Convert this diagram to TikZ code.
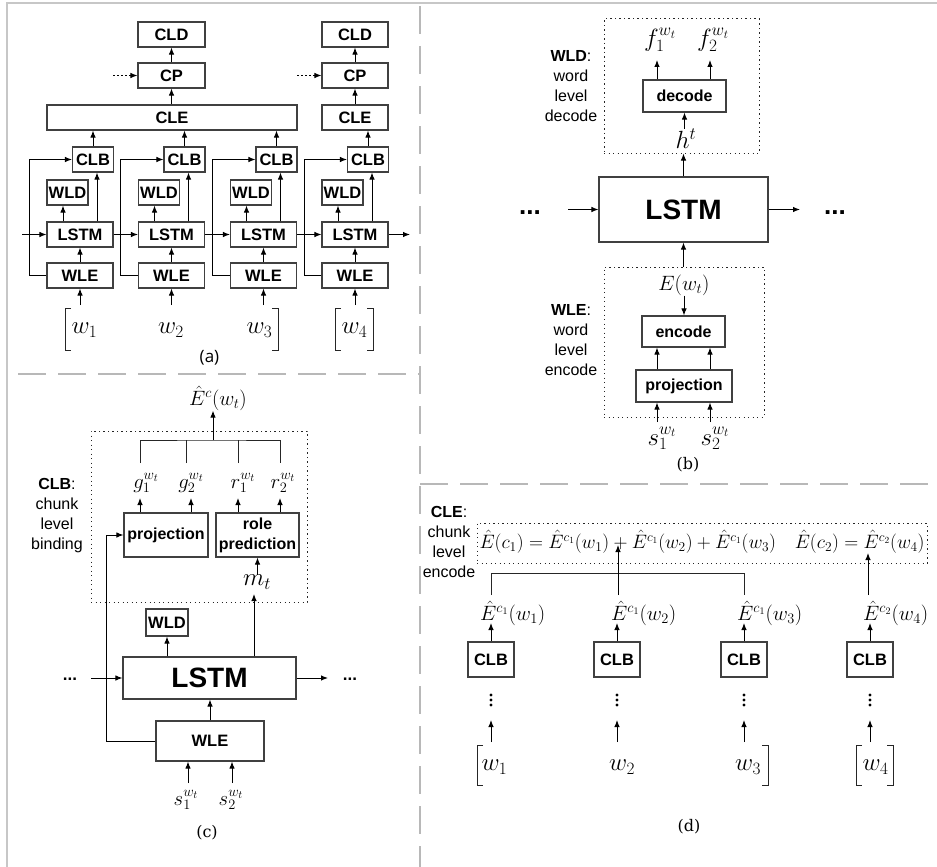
\documentclass[tikz,border=0pt]{standalone}
\usepackage{fontspec}
\usepackage{graphicx}
\usetikzlibrary{arrows.meta}
\newfontfamily\arialf{Liberation Sans}
\newfontfamily\osansf{Open Sans}
\newfontfamily\dserf{DejaVu Serif}
\tikzset{
  box/.style={draw=black!75, line width=1.1pt, fill=white, inner sep=0pt,
    font=\arialf\bfseries\fontsize{16.5}{18}\selectfont},
  bigbox/.style={box, font=\arialf\bfseries\fontsize{28}{30}\selectfont},
  arr/.style={-{Latex[length=7pt,width=5.5pt]}, line width=1pt},
  ln/.style={line width=1pt, draw=black!85},
  dotbox/.style={draw=black!85, line width=1pt, dash pattern=on 1.2pt off 3.3pt, inner sep=0pt},
  divider/.style={draw=black!28, line width=2pt, dash pattern=on 28pt off 12pt},
  mth/.style={inner sep=0pt, font=\fontsize{22}{26}\selectfont},
  mthw/.style={inner sep=0pt, font=\fontsize{23}{26}\selectfont},
  mthd/.style={inner sep=0pt, font=\fontsize{20}{24}\selectfont},
  lbl/.style={inner sep=0pt, align=center, font=\arialf\fontsize{16}{20}\selectfont},
  dots/.style={inner sep=0pt, font=\arialf\bfseries\fontsize{17}{20}\selectfont},
  bigdots/.style={inner sep=0pt, font=\arialf\bfseries\fontsize{26}{30}\selectfont},
  caps/.style={inner sep=0pt, font=\osansf\fontsize{17}{20}\selectfont},
  capsr/.style={inner sep=0pt, font=\dserf\fontsize{16}{20}\selectfont},
  brk/.style={line width=0.9pt, draw=black!85},
}
\begin{document}
\begin{tikzpicture}[x=1pt,y=-1pt]
\useasboundingbox (0,0) rectangle (937,867);
% frame and dividers
\draw[black!22, line width=1.5pt] (7,867) -- (7,3) -- (937,3);
\draw[divider] (420,6) -- (420,867);
\draw[divider] (18,374) -- (420,374);
\draw[divider] (420,484) -- (937,484);

%================ panel (a)
\node[box, minimum width=67, minimum height=25] (cld1) at (171.5,34.5) {CLD};
\node[box, minimum width=66, minimum height=25] (cld2) at (355,34.5) {CLD};
\node[box, minimum width=67, minimum height=25] (cp1) at (171.5,75.5) {CP};
\node[box, minimum width=66, minimum height=25] (cp2) at (355,75.5) {CP};
\node[box, minimum width=250, minimum height=25] (cle1) at (172,117.5) {CLE};
\node[box, minimum width=66, minimum height=25] (cle2) at (355,117.5) {CLE};
\foreach \i/\cx in {1/80,2/171.5,3/263.5,4/355}{
  \node[box, minimum width=66, minimum height=25] (lstm\i) at (\cx,234.5) {LSTM};
  \node[box, minimum width=66, minimum height=25] (wle\i) at (\cx,275.5) {WLE};
  \node[box, minimum width=41, minimum height=25] (wld\i) at (\cx-12.5,192.5) {WLD};
  \node[box, minimum width=41, minimum height=25] (clb\i) at (\cx+13,159.5) {CLB};
  \coordinate (in\i) at (\cx,305);
  \draw[arr] (in\i) -- (wle\i.south);
  \draw[arr] (wle\i.north) -- (lstm\i.south);
  \draw[arr] ([xshift=-17pt]lstm\i.north) -- ([xshift=-17pt]lstm\i.north |- wld\i.south);
  \draw[arr] ([xshift=17pt]lstm\i.north) -- ([xshift=17pt]lstm\i.north |- clb\i.south);
  \draw[arr] (wle\i.west) -- ++(-17,0) |- (clb\i.west);
}
\coordinate (lin) at (22,234.5);
\coordinate (lout) at (410,234.5);
\draw[arr] (lin) -- (lstm1.west);
\draw[arr] (lstm1.east) -- (lstm2.west);
\draw[arr] (lstm2.east) -- (lstm3.west);
\draw[arr] (lstm3.east) -- (lstm4.west);
\draw[arr] (lstm4.east) -- (lout);
\foreach \i in {1,2,3}{\draw[arr] (clb\i.north) -- (clb\i.north |- cle1.south);}
\draw[arr] (clb4.north) -- (clb4.north |- cle2.south);
\draw[arr] (cp1 |- cle1.north) -- (cp1.south);
\draw[arr] (cle2.north) -- (cp2.south);
\draw[arr] (cp1.north) -- (cld1.south);
\draw[arr] (cp2.north) -- (cld2.south);
\coordinate (dp1) at (113,75.5);
\coordinate (dp2) at (297,75.5);
\draw[arr, dash pattern=on 2pt off 2pt] (dp1) -- (cp1.west);
\draw[arr, dash pattern=on 2pt off 2pt] (dp2) -- (cp2.west);
% words
\node[mthw] (wa1) at (84.5,330) {$w_1$};
\node[mthw] (wa2) at (171,330) {$w_2$};
\node[mthw] (wa3) at (259.5,330) {$w_3$};
\node[mthw] (wa4) at (354.5,330) {$w_4$};
\draw[brk] (71,308) -- (65,308) -- (65,350) -- (71,350);
\draw[brk] (272,308) -- (278,308) -- (278,350) -- (272,350);
\draw[brk] (341,308) -- (335,308) -- (335,350) -- (341,350);
\draw[brk] (367,308) -- (373,308) -- (373,350) -- (367,350);
\node[caps] (capa) at (209.5,358) {(a)};

%================ panel (b)
\node[dotbox, minimum width=155, minimum height=134] (wldbox) at (681.5,86) {};
\node[box, font=\arialf\bfseries\fontsize{16}{18}\selectfont, minimum width=83, minimum height=32] (dec) at (684.5,96) {decode};
\node[mth, font=\fontsize{24}{26}\selectfont] (f1) at (660,40) {$f_1^{w_t}$};
\node[mth, font=\fontsize{24}{26}\selectfont] (f2) at (713,40) {$f_2^{w_t}$};
\draw[arr] ([xshift=-27.5pt]dec.north) -- ([xshift=-27.5pt]dec.north |- 0,60);
\draw[arr] ([xshift=25.5pt]dec.north) -- ([xshift=25.5pt]dec.north |- 0,60);
\node[mth, font=\fontsize{26}{28}\selectfont] (ht) at (686,139) {$h^t$};
\draw[arr] (dec.south |- ht.north) -- (dec.south);
\node[bigbox, minimum width=169, minimum height=65] (lstmb) at (683.5,209.5) {LSTM};
\draw[arr] (lstmb.north) -- (lstmb.north |- wldbox.south);
\node[lbl] (wldl) at (571,86) {\textbf{WLD}:\\word\\level\\decode};
\node[bigdots] (dl) at (530,213) {...};
\node[bigdots] (dr) at (835,213) {...};
\coordinate (al) at (568,209.5);
\coordinate (ar) at (800,209.5);
\draw[arr] (al) -- (lstmb.west);
\draw[arr] (lstmb.east) -- (ar);
\node[dotbox, minimum width=160, minimum height=150] (wlebox) at (684,342) {};
\draw[arr] (lstmb.south |- wlebox.north) -- (lstmb.south);
\node[mth, font=\fontsize{20}{24}\selectfont] (ew) at (684,285) {$E(w_t)$};
\node[box, font=\arialf\bfseries\fontsize{16}{18}\selectfont, minimum width=83, minimum height=31] (enc) at (683.5,331.5) {encode};
\draw[arr] (ew.south) -- (ew.south |- enc.north);
\node[box, font=\arialf\bfseries\fontsize{16}{18}\selectfont, minimum width=96, minimum height=32] (prj) at (684,386) {projection};
\draw[arr] ([xshift=-27pt]prj.north) -- ([xshift=-27pt]prj.north |- enc.south);
\draw[arr] ([xshift=26pt]prj.north) -- ([xshift=26pt]prj.north |- enc.south);
\node[mth, font=\fontsize{24}{26}\selectfont] (s1) at (662,438) {$s_1^{w_t}$};
\node[mth, font=\fontsize{24}{26}\selectfont] (s2) at (715,438) {$s_2^{w_t}$};
\draw[arr] ([xshift=-27pt]prj.south |- 0,422) -- ([xshift=-27pt]prj.south);
\draw[arr] ([xshift=26pt]prj.south |- 0,422) -- ([xshift=26pt]prj.south);
\node[lbl] (wlel) at (571,340) {\textbf{WLE}:\\word\\level\\encode};
\node[capsr] (capb) at (688,465) {(b)};

%================ panel (c)
\node[mth, font=\fontsize{21}{24}\selectfont] (ec) at (218,398) {$\hat{E}^c(w_t)$};
\node[dotbox, minimum width=216, minimum height=171] (clbbox) at (199,516.5) {};
\node[mth] (g1) at (146,483) {$g_1^{w_t}$};
\node[mth] (g2) at (191,483) {$g_2^{w_t}$};
\node[mth] (r1) at (243,483) {$r_1^{w_t}$};
\node[mth] (r2) at (283,483) {$r_2^{w_t}$};
\coordinate (t1) at (140,463);
\coordinate (t2) at (186,463);
\coordinate (t3) at (238,463);
\coordinate (t4) at (280,463);
\coordinate (bk) at (213,440);
\draw[ln] (t1) |- (bk) -| (t4);
\draw[ln] (t2) -- (t2 |- bk);
\draw[ln] (t3) -- (t3 |- bk);
\draw[arr] (bk) -- (bk |- ec.south);
\node[box, font=\arialf\bfseries\fontsize{16}{18}\selectfont, minimum width=84, minimum height=44] (projc) at (166,535) {projection};
\node[box, font=\arialf\bfseries\fontsize{16}{20}\selectfont, align=center, minimum width=83, minimum height=44] (role) at (257.5,535) {role\\prediction};
\draw[arr] (t1 |- projc.north) -- (t1 |- 0,498);
\draw[arr] ([xshift=25pt]projc.north) -- ([xshift=25pt]projc.north |- 0,498);
\draw[arr] (t3 |- role.north) -- (t3 |- 0,498);
\draw[arr] (t4 |- role.north) -- (t4 |- 0,498);
\node[mth, font=\fontsize{24}{26}\selectfont] (mt) at (257,582) {$m_t$};
\draw[arr] (role.south |- mt.north) -- (role.south);
\node[bigbox, minimum width=173, minimum height=42] (lstmc) at (209.5,678) {LSTM};
\draw[arr] ([xshift=44.5pt]lstmc.north) -- ([xshift=44.5pt]lstmc.north |- 0,594);
\node[box, minimum width=42, minimum height=27] (wldc) at (167,622.5) {WLD};
\draw[arr] (wldc.south |- lstmc.north) -- (wldc.south);
\node[dots] (dcl) at (70,679) {...};
\node[dots] (dcr) at (350,679) {...};
\coordinate (acl) at (91,678);
\coordinate (acr) at (328,678);
\draw[arr] (acl) -- (lstmc.west);
\draw[arr] (lstmc.east) -- (acr);
\node[box, minimum width=108, minimum height=40] (wlec) at (210,741) {WLE};
\draw[arr] (wlec.north) -- (wlec.north |- lstmc.south);
\draw[arr] (wlec.west) -- ++(-49,0) |- (projc.west);
\node[mth] (s1c) at (186,800) {$s_1^{w_t}$};
\node[mth] (s2c) at (231,800) {$s_2^{w_t}$};
\draw[arr] ([xshift=-22pt]wlec.south |- 0,783) -- ([xshift=-22pt]wlec.south);
\draw[arr] ([xshift=22pt]wlec.south |- 0,783) -- ([xshift=22pt]wlec.south);
\node[lbl] (clbl) at (57,516) {\textbf{CLB}:\\chunk\\level\\binding};
\node[capsr] (capc) at (207,833) {(c)};

%================ panel (d)
\node[lbl] (clel) at (449,542) {\textbf{CLE}:\\chunk\\level\\encode};
\node[dotbox, minimum width=450, minimum height=40] (clebox) at (702,543) {};
\node[inner sep=0pt] (eq) at (702,542) {\resizebox{445pt}{!}{\fontsize{20}{24}\selectfont$\hat{E}(c_1)=\hat{E}^{c_1}(w_1)+\hat{E}^{c_1}(w_2)+\hat{E}^{c_1}(w_3)\quad\hat{E}(c_2)=\hat{E}^{c_2}(w_4)$}};
\foreach \i/\cx/\lx/\wx in {1/491/480/494.5,2/617/611/622,3/744/737/748,4/870/863/875.5}{
  \node[box, minimum width=46, minimum height=35] (clbd\i) at (\cx,659.5) {CLB};
  \node[mthd, anchor=west] (ld\i) at (\lx,613) {$\hat{E}^{c_{\ifnum\i=4 2\else 1\fi}}(w_\i)$};
  \draw[arr] (clbd\i.north) -- (clbd\i.north |- 0,623);
  \fill (\cx,695) circle (1.6pt) (\cx,700) circle (1.6pt) (\cx,705) circle (1.6pt);
  \draw[arr] (clbd\i.south |- 0,742) -- (clbd\i.south |- 0,720);
  \node[mthw] (wd\i) at (\wx,767) {$w_\i$};
}
\draw[ln] (clbd1 |- 0,595) |- (clbd3 |- 0,573) -- (clbd3 |- 0,595);
\draw[arr] (618,595) -- (618,545);
\draw[arr] (868,595) -- (868,553);
\draw[brk] (483,745) -- (477,745) -- (477,785) -- (483,785);
\draw[brk] (762,745) -- (768,745) -- (768,785) -- (762,785);
\draw[brk] (862,745) -- (856,745) -- (856,785) -- (862,785);
\draw[brk] (887,745) -- (893,745) -- (893,785) -- (887,785);
\node[capsr] (capd) at (689,827) {(d)};
\end{tikzpicture}
\end{document}
